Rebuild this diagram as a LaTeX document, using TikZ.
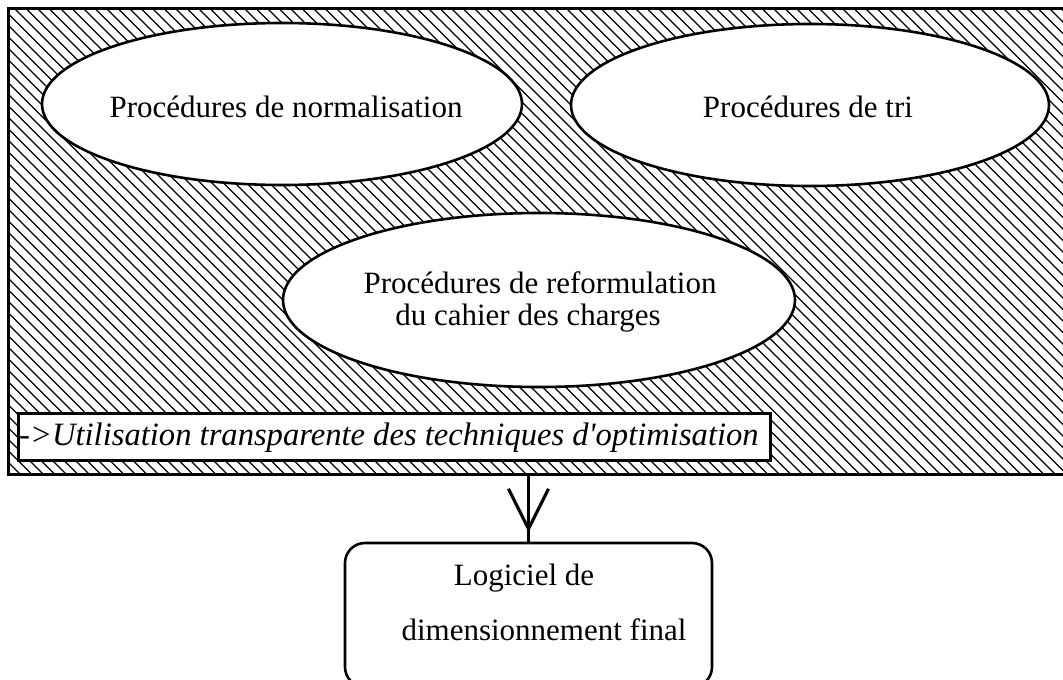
\documentclass[tikz,border=0pt]{standalone}
\usepackage{fontspec}
\setmainfont{Liberation Serif}[Ligatures=TeXOff]
\usetikzlibrary{shapes.geometric,arrows.meta,decorations.markings}
\begin{document}
\begin{tikzpicture}[x=1pt,y=-1pt,
  every node/.style={font=\fontsize{31}{32}\selectfont},
  frame/.style={draw,line width=3pt,inner sep=0pt,rectangle},
  bubble/.style={draw,fill=white,ellipse,line width=2.6pt,inner sep=0pt},
  hatchline/.style={line width=1.3pt},
  txt/.style={anchor=base,inner sep=0pt},
  finalbox/.style={draw,line width=2.6pt,rounded corners=20pt,inner sep=0pt},
  flow/.style={line width=3pt,postaction={decorate},
    decoration={markings,mark=at position 0.86 with {\arrow{Straight Barb[length=40pt,width=40pt,line width=3.2pt]}}}},
  ]
\useasboundingbox (0,0) rectangle (1063,680);
% hatching
\begin{scope}
\clip (8,8) rectangle (1080,474);
\foreach \i in {-500,-488.5,...,1100} \draw[hatchline] (\i,0) -- ++(520,520);
\end{scope}
\node[frame, minimum width=1072pt, minimum height=466pt] (outer) at (544,241) {};
% ellipses
\node[bubble, minimum width=480pt, minimum height=162pt] (e1) at (282,104) {};
\node[bubble, minimum width=478pt, minimum height=162pt] (e2) at (810,105) {};
\node[bubble, minimum width=512pt, minimum height=174pt] (e3) at (539,300) {};
\node[txt] (t1) at (286,117) {Procédures de normalisation};
\node[txt] (t2) at (808,117) {Procédures de tri};
\node[txt] (t3a) at (540,293) {Procédures de reformulation};
\node[txt] (t3b) at (528,325) {du cahier des charges};
% note box
\node[frame, fill=white, minimum width=752pt, minimum height=47pt] (note) at (394,436.5) {};
\node[txt, anchor=base west, font=\fontsize{32.6}{34}\selectfont\itshape] (notetext) at (19,445) {->Utilisation transparente des techniques d'optimisation};
% final box
\node[finalbox, minimum width=367pt, minimum height=144pt] (final) at (528.5,615) {};
\node[txt] (f1) at (524,585) {Logiciel de};
\node[txt] (f2) at (544,640) {dimensionnement final};
% arrow
\draw[flow] (final.north |- outer.south) -- (final.north);
\end{tikzpicture}
\end{document}
